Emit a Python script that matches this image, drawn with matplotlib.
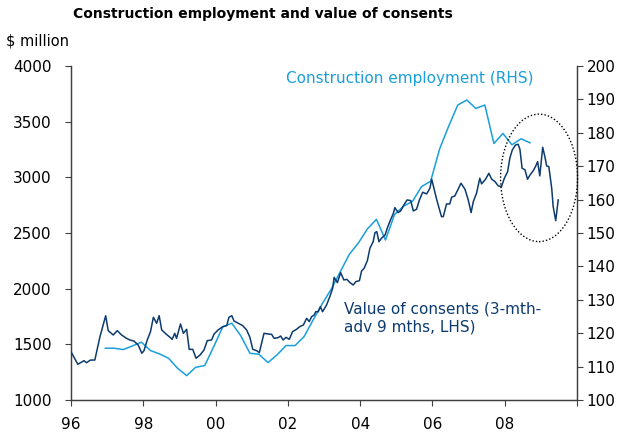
import numpy as np
import matplotlib
matplotlib.use('Agg')
import matplotlib.pyplot as plt
from matplotlib.patches import Ellipse

# --- datos ---
# Valor de consents (3-mth, adelantado 9 meses), $ million, eje izquierdo
cons_year = [1996.00, 1996.19, 1996.36, 1996.43, 1996.54, 1996.66, 1996.80, 1996.96,
             1997.03, 1997.17, 1997.28, 1997.40, 1997.52, 1997.63, 1997.74, 1997.86,
             1997.96, 1998.02, 1998.11, 1998.20, 1998.28, 1998.37, 1998.44, 1998.51,
             1998.63, 1998.74, 1998.80, 1998.87, 1998.92, 1999.03, 1999.11, 1999.20,
             1999.27, 1999.37, 1999.46, 1999.57, 1999.68, 1999.77, 1999.89, 1999.96,
             2000.07, 2000.20, 2000.31, 2000.37, 2000.45, 2000.51, 2000.63, 2000.75,
             2000.86, 2000.95, 2001.03, 2001.14, 2001.21, 2001.34, 2001.46, 2001.55,
             2001.62, 2001.73, 2001.80, 2001.87, 2001.95, 2002.04, 2002.13, 2002.24,
             2002.33, 2002.43, 2002.52, 2002.59, 2002.66, 2002.73, 2002.77, 2002.84,
             2002.90, 2002.96, 2003.07, 2003.16, 2003.24, 2003.28, 2003.37, 2003.46,
             2003.55, 2003.63, 2003.72, 2003.81, 2003.88, 2003.98, 2004.04, 2004.11,
             2004.20, 2004.27, 2004.36, 2004.41, 2004.46, 2004.52, 2004.59, 2004.69,
             2004.75, 2004.82, 2004.92, 2004.96, 2005.05, 2005.12, 2005.21, 2005.30,
             2005.40, 2005.47, 2005.56, 2005.64, 2005.73, 2005.84, 2005.93, 2005.98,
             2006.12, 2006.25, 2006.30, 2006.39, 2006.48, 2006.53, 2006.62, 2006.70,
             2006.79, 2006.90, 2006.99, 2007.07, 2007.13, 2007.22, 2007.31, 2007.36,
             2007.47, 2007.56, 2007.64, 2007.73, 2007.82, 2007.91, 2007.99, 2008.08,
             2008.14, 2008.21, 2008.30, 2008.37, 2008.42, 2008.48, 2008.56, 2008.63,
             2008.70, 2008.79, 2008.85, 2008.91, 2008.97, 2009.05, 2009.11, 2009.16,
             2009.22, 2009.30, 2009.34, 2009.41, 2009.48]
cons_val = [1434, 1321, 1353, 1335, 1359, 1359, 1566, 1757,
            1623, 1584, 1623, 1584, 1557, 1539, 1530, 1494,
            1420, 1443, 1539, 1614, 1743, 1689, 1757, 1629,
            1593, 1563, 1545, 1599, 1554, 1683, 1599, 1635,
            1455, 1455, 1375, 1404, 1449, 1533, 1539, 1593,
            1629, 1659, 1668, 1743, 1757, 1710, 1689, 1668,
            1629, 1563, 1455, 1443, 1425, 1599, 1593, 1590,
            1554, 1560, 1575, 1539, 1563, 1545, 1614, 1635,
            1659, 1674, 1734, 1704, 1749, 1764, 1793, 1793,
            1838, 1793, 1853, 1928, 2003, 2102, 2054, 2144,
            2078, 2084, 2054, 2033, 2063, 2072, 2159, 2183,
            2252, 2363, 2422, 2503, 2512, 2422, 2453, 2482,
            2543, 2602, 2677, 2728, 2683, 2698, 2752, 2797,
            2791, 2698, 2713, 2797, 2866, 2851, 2902, 2983,
            2797, 2647, 2647, 2761, 2761, 2821, 2833, 2887,
            2947, 2893, 2797, 2683, 2782, 2857, 2992, 2941,
            2983, 3036, 2983, 2962, 2923, 2917, 2992, 3051,
            3171, 3246, 3291, 3297, 3252, 3082, 3067, 2983,
            3021, 3060, 3096, 3141, 3013, 3270, 3186, 3102,
            3096, 2900, 2737, 2611, 2797]

# Empleo en construccion (trimestral), eje derecho
emp_start = 1996.95
emp_val = [115.5, 115.5, 115.1, 116.2, 117.3, 114.8, 113.8, 112.5,
           109.5, 107.3, 109.8, 110.3, 116.0, 121.9, 123.0, 119.2,
           114.0, 113.7, 111.2, 113.5, 116.3, 116.3, 119.0, 124.0,
           128.8, 133.2, 138.4, 143.6, 147.0, 151.2, 154.1, 147.9,
           155.5, 158.0, 159.5, 163.9, 165.5, 175.2, 182.0, 188.3,
           189.8, 187.3, 188.3, 176.8, 179.8, 176.4, 178.2, 177.0]
emp_year = emp_start + 0.25 * np.arange(len(emp_val))

x_ticks = [1996, 1998, 2000, 2002, 2004, 2006, 2008, 2010]
x_labels = ['96', '98', '00', '02', '04', '06', '08', '']

navy = '#0d3b6e'
celeste = '#1a9fdb'
gris = '#404040'

plt.rcParams['font.family'] = 'DejaVu Sans'

fig = plt.figure(figsize=(6.22, 4.34), dpi=100)
ax = fig.add_axes([0.1141, 0.0783, 0.8136, 0.7697])
ax2 = ax.twinx()

ax.plot(cons_year, cons_val, color=navy, lw=1.1, zorder=3)
ax2.plot(emp_year, emp_val, color=celeste, lw=1.1)
ax.set_zorder(ax2.get_zorder() + 1)
ax.patch.set_visible(False)

ax.set_xlim(1996, 2010)
ax.set_ylim(1000, 4000)
ax2.set_ylim(100, 200)
ax.set_yticks(np.arange(1000, 4001, 500))
ax2.set_yticks(np.arange(100, 201, 10))
ax.set_xticks(x_ticks)
ax.set_xticklabels(x_labels)

for a in (ax, ax2):
    a.spines['top'].set_visible(False)
    for s in ('left', 'right', 'bottom'):
        a.spines[s].set_color(gris)
        a.spines[s].set_linewidth(0.9)
    a.tick_params(length=4, width=0.8, color=gris, labelsize=11)
ax.tick_params(axis='x', pad=8)
ax.tick_params(axis='y', pad=10)
ax2.tick_params(axis='y', pad=3)

# elipse punteada sobre el final del periodo
ell = Ellipse((2008.95, 2995), 2.13, 1145, fill=False, ls=(0, (1, 1.5)),
              lw=1.0, color='black', clip_on=False, zorder=4)
ax.add_patch(ell)

ax.text(2001.95, 3884, 'Construction employment (RHS)', color=celeste,
        fontsize=11, va='center')
ax.text(2003.55, 1885, 'Value of consents (3-mth-\nadv 9 mths, LHS)', color=navy,
        fontsize=11, linespacing=1.25, va='top')

fig.text(0.423, 0.958, 'Construction employment and value of consents',
         ha='center', fontsize=10, fontweight='bold')
fig.text(0.01, 0.895, '$ million', fontsize=10.5)

fig.savefig('out.png', dpi=100)
